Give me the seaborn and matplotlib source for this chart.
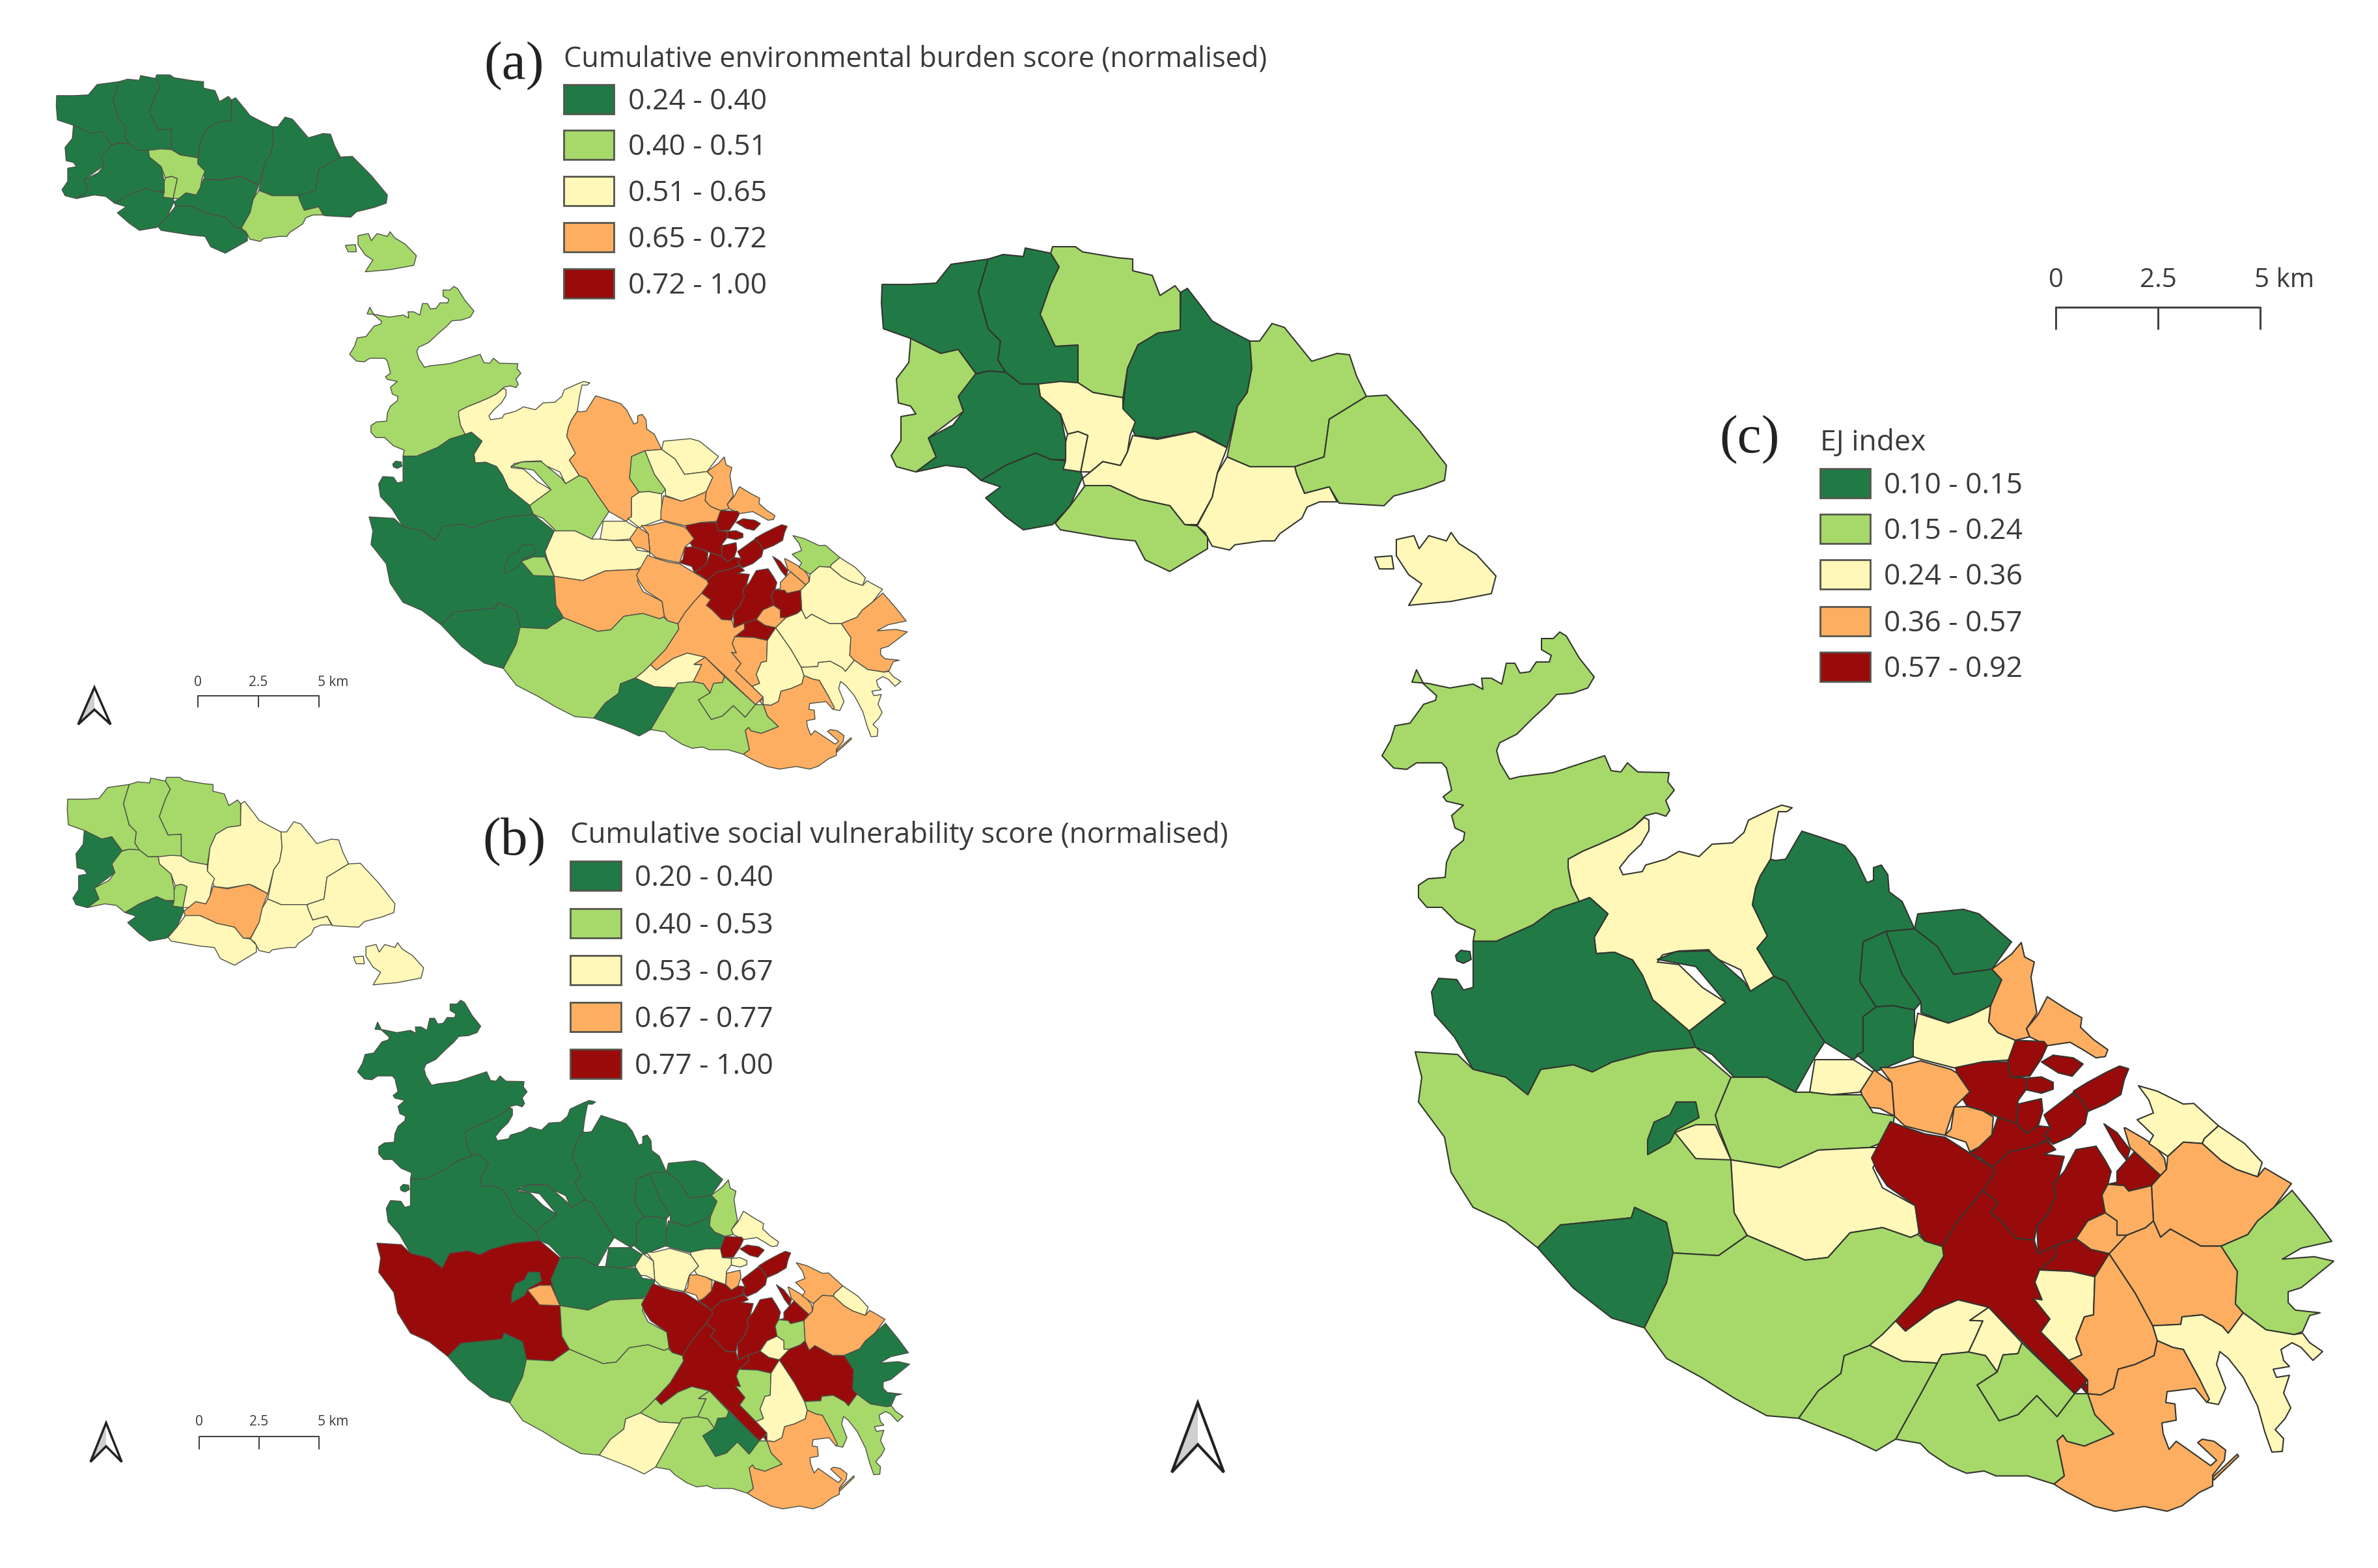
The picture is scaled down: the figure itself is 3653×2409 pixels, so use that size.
# malta_ej_maps.py
# Three choropleth maps of Malta: environmental burden, social vulnerability, EJ index

import pandas as pd
import matplotlib.pyplot as plt
from matplotlib.patches import Rectangle
import seaborn as sns

# class colours, low to high
CLASS_COLOURS = ["#217a45", "#a6d96a", "#fff8b8", "#fdae61", "#990b0b"]

# legend labels
LABELS_A = ["0.24 - 0.40", "0.40 - 0.51", "0.51 - 0.65", "0.65 - 0.72", "0.72 - 1.00"]
LABELS_B = ["0.20 - 0.40", "0.40 - 0.53", "0.53 - 0.67", "0.67 - 0.77", "0.77 - 1.00"]
LABELS_C = ["0.10 - 0.15", "0.15 - 0.24", "0.24 - 0.36", "0.36 - 0.57", "0.57 - 0.92"]
TITLE_A = "Cumulative environmental burden score (normalised)"
TITLE_B = "Cumulative social vulnerability score (normalised)"
TITLE_C = "EJ index"

# Council outlines, traced in the pixel frame of the large map (c)
G1 = [(1355,437),(1399,437),(1438,435),(1461,406),(1518,398),(1503,449),(1518,505),(1537,524),(1533,553),(1545,572),(1518,570),(1499,574),(1472,537),(1445,543),(1399,520),(1357,505),(1354,466)]
G2 = [(1518,398),(1541,391),(1572,394),(1575,381),(1614,389),(1627,410),(1614,437),(1598,483),(1621,532),(1656,530),(1656,588),(1595,590),(1568,590),(1545,572),(1533,553),(1537,524),(1518,505),(1503,449)]
G3 = [(1614,389),(1617,379),(1652,379),(1663,387),(1717,396),(1740,398),(1740,416),(1770,423),(1782,454),(1805,439),(1813,449),(1813,507),(1778,512),(1748,530),(1732,566),(1725,611),(1679,603),(1656,588),(1656,530),(1621,532),(1598,483),(1614,437),(1627,410)]
G4 = [(1813,507),(1814,449),(1824,443),(1851,478),(1862,493),(1889,508),(1920,524),(1923,566),(1916,603),(1901,624),(1885,688),(1851,669),(1836,663),(1778,673),(1744,669),(1725,628),(1732,566),(1748,530),(1778,512)]
G5 = [(1920,524),(1935,524),(1954,497),(1973,503),(2015,555),(2054,543),(2073,545),(2084,578),(2099,609),(2042,644),(2034,702),(1989,717),(1920,717),(1885,702),(1901,624),(1916,603),(1923,566)]
G6 = [(2099,609),(2130,607),(2180,661),(2222,715),(2219,738),(2187,750),(2141,762),(2126,777),(2057,773),(2042,748),(2004,758),(1992,729),(1989,717),(2034,702),(2042,644)]
G7 = [(1885,702),(1920,717),(1989,717),(1992,729),(2004,758),(2042,748),(2054,771),(2027,771),(2008,779),(2000,796),(1966,820),(1958,831),(1939,831),(1897,837),(1889,845),(1862,839),(1851,818),(1839,808),(1862,764),(1870,727)]
G8 = [(1740,669),(1778,675),(1836,663),(1885,688),(1870,727),(1862,764),(1839,806),(1820,806),(1797,777),(1751,767),(1705,746),(1667,750),(1663,735),(1694,709),(1721,715),(1732,694)]
G9 = [(1595,590),(1629,586),(1656,588),(1679,603),(1725,611),(1725,628),(1744,648),(1736,669),(1732,694),(1721,715),(1694,709),(1675,725),(1660,725),(1671,669),(1656,663),(1640,667),(1629,636),(1598,609)]
G10 = [(1640,667),(1656,663),(1671,669),(1660,725),(1633,721),(1629,711)]
G11 = [(1495,576),(1518,570),(1545,572),(1568,590),(1595,590),(1598,609),(1629,636),(1637,677),(1637,706),(1614,706),(1591,696),(1545,715),(1507,738),(1484,719),(1453,715),(1407,725),(1438,702),(1426,673),(1464,653),(1480,632),(1472,609)]
G12 = [(1591,696),(1614,706),(1637,708),(1633,721),(1660,725),(1663,733),(1644,777),(1617,806),(1572,814),(1545,794),(1514,765),(1537,748),(1507,738),(1545,715)]
G13 = [(1667,746),(1705,746),(1751,767),(1797,777),(1820,806),(1839,808),(1855,825),(1855,843),(1797,878),(1759,860),(1744,831),(1705,827),(1629,814),(1621,804),(1644,777)]
G14 = [(1399,520),(1445,543),(1472,537),(1499,574),(1472,609),(1480,632),(1426,673),(1438,702),(1407,725),(1377,717),(1369,700),(1384,677),(1384,640),(1407,636),(1399,624),(1380,619),(1377,582),(1396,557)]
COMINO = [(2145,829),(2172,823),(2180,843),(2195,823),(2222,831),(2229,818),(2241,835),(2268,852),(2298,885),(2291,912),(2229,924),(2164,930),(2184,897),(2164,883),(2145,854)]
COMINOTTO = [(2112,856),(2138,854),(2141,874),(2119,874)]

M1 = [(2176,1029),(2169,1048),(2194,1050),(2227,1057),(2263,1051),(2278,1059),(2276,1042),(2291,1042),(2307,1051),(2314,1019),(2327,1019),(2335,1034),(2350,1032),(2360,1017),(2380,1017),(2383,1007),(2368,998),(2368,981),(2386,981),(2396,971),(2406,977),(2426,1011),(2449,1040),(2439,1057),(2416,1065),(2391,1067),(2378,1082),(2355,1103),(2330,1128),(2304,1141),(2299,1153),(2304,1172),(2319,1197),(2335,1193),(2386,1187),(2465,1161),(2475,1184),(2490,1186),(2500,1172),(2516,1186),(2564,1187),(2562,1201),(2572,1214),(2559,1230),(2565,1245),(2559,1254),(2544,1249),(2528,1253),(2508,1272),(2488,1283),(2457,1297),(2431,1308),(2409,1320),(2409,1333),(2414,1360),(2426,1385),(2386,1398),(2355,1421),(2299,1446),(2263,1446),(2266,1429),(2238,1417),(2215,1394),(2192,1394),(2179,1379),(2179,1360),(2194,1350),(2220,1348),(2222,1325),(2230,1306),(2248,1291),(2250,1279),(2235,1272),(2230,1253),(2248,1237),(2222,1231),(2217,1224),(2230,1214),(2222,1180),(2215,1172),(2176,1172),(2161,1182),(2141,1180),(2123,1161),(2136,1138),(2143,1115),(2166,1111),(2187,1082),(2205,1076),(2207,1069),(2187,1051)]
M2 = [(2426,1385),(2414,1360),(2409,1333),(2409,1320),(2431,1308),(2457,1297),(2488,1283),(2508,1272),(2526,1256),(2533,1260),(2533,1276),(2521,1297),(2503,1314),(2488,1333),(2493,1344),(2523,1339),(2528,1329),(2559,1320),(2579,1308),(2610,1316),(2630,1297),(2661,1295),(2679,1279),(2686,1260),(2722,1243),(2737,1237),(2753,1241),(2745,1247),(2732,1247),(2725,1283),(2720,1320),(2704,1346),(2697,1364),(2692,1390),(2715,1438),(2699,1457),(2725,1500),(2689,1523),(2674,1490),(2633,1471),(2625,1459),(2579,1461),(2554,1467),(2546,1478),(2579,1482),(2615,1517),(2651,1540),(2595,1584),(2539,1536),(2523,1498),(2508,1475),(2480,1463),(2452,1465),(2449,1440),(2470,1404),(2442,1379)]
M3 = [(2263,1446),(2299,1446),(2355,1421),(2386,1398),(2426,1385),(2442,1379),(2470,1404),(2449,1440),(2452,1465),(2480,1463),(2508,1475),(2523,1498),(2539,1536),(2595,1584),(2605,1609),(2536,1616),(2476,1632),(2446,1647),(2417,1636),(2367,1643),(2347,1682),(2313,1655),(2263,1643),(2234,1593),(2204,1559),(2199,1524),(2210,1503),(2238,1505),(2248,1521),(2263,1517)]
ISLET = [(2236,1468),(2244,1460),(2258,1462),(2260,1474),(2248,1480),(2238,1476)]
M4 = [(2546,1474),(2575,1462),(2625,1461),(2679,1508),(2689,1523),(2725,1500),(2744,1508),(2773,1555),(2803,1601),(2788,1624),(2758,1678),(2714,1655),(2664,1655),(2630,1620),(2605,1609),(2595,1584),(2651,1540),(2605,1485)]
M5 = [(2725,1500),(2699,1457),(2715,1438),(2692,1390),(2697,1364),(2704,1346),(2720,1320),(2727,1322),(2743,1320),(2768,1277),(2799,1287),(2834,1299),(2850,1318),(2868,1356),(2878,1352),(2878,1333),(2890,1329),(2900,1344),(2902,1370),(2922,1385),(2941,1427),(2897,1431),(2862,1447),(2857,1508),(2882,1547),(2862,1562),(2862,1616),(2847,1628),(2803,1601),(2773,1555),(2744,1508)]
M6 = [(2941,1427),(2946,1404),(3016,1397),(3040,1404),(3090,1447),(3060,1489),(3001,1497),(2976,1454)]
M7 = [(2897,1431),(2941,1427),(2976,1454),(3001,1497),(3060,1489),(3075,1505),(3058,1543),(3029,1557),(2993,1570),(2951,1555),(2951,1539),(2922,1497)]
M8 = [(2897,1431),(2922,1497),(2951,1539),(2941,1551),(2907,1545),(2882,1547),(2857,1508),(2862,1447)]
M9 = [(2862,1562),(2882,1547),(2907,1545),(2941,1551),(2941,1601),(2939,1622),(2882,1646),(2852,1620),(2862,1616)]
M10 = [(2946,1556),(2993,1570),(3029,1557),(3058,1543),(3055,1567),(3069,1583),(3096,1594),(3087,1623),(3046,1626),(3004,1637),(2953,1626),(2939,1622),(2939,1599)]
OA = [(3105,1448),(3110,1470),(3125,1478),(3120,1501),(3125,1532),(3129,1554),(3113,1577),(3118,1589),(3096,1594),(3069,1583),(3055,1567),(3058,1543),(3075,1505),(3060,1489),(3090,1466)]
OB = [(3145,1530),(3174,1548),(3198,1561),(3196,1575),(3216,1593),(3238,1608),(3234,1618),(3220,1620),(3198,1607),(3180,1597),(3145,1602),(3118,1589),(3113,1577),(3131,1556)]
RD = [(3096,1594),(3140,1596),(3145,1602),(3136,1621),(3118,1647),(3089,1648),(3084,1626)]
RE = [(3136,1626),(3154,1616),(3185,1620),(3200,1629),(3183,1647),(3162,1642)]
RF = [(3004,1636),(3046,1626),(3084,1626),(3089,1648),(3113,1650),(3113,1666),(3100,1683),(3098,1717),(3069,1707),(3046,1698),(3022,1693),(3015,1682),(3026,1671),(3006,1644)]
RG = [(3113,1650),(3136,1648),(3154,1656),(3154,1666),(3136,1672),(3113,1667)]
RH = [(3100,1688),(3136,1680),(3138,1698),(3131,1720),(3113,1731),(3098,1717)]
RI = [(3185,1669),(3207,1656),(3238,1640),(3256,1632),(3270,1636),(3263,1653),(3258,1674),(3234,1688),(3207,1699),(3198,1683)]
RJ = [(3140,1704),(3185,1671),(3198,1683),(3207,1699),(3203,1717),(3180,1736),(3154,1747),(3140,1736),(3149,1722)]
RK = [(3069,1707),(3098,1717),(3113,1731),(3131,1720),(3149,1722),(3140,1736),(3149,1739),(3118,1752),(3087,1758),(3069,1774),(3060,1781),(3042,1768),(3026,1762),(3040,1752),(3060,1733)]
OL = [(2888,1640),(2908,1640),(2950,1628),(2997,1639),(3006,1644),(3026,1671),(3015,1682),(3002,1695),(2988,1738),(2957,1734),(2926,1728),(2910,1714),(2906,1663)]
OM = [(3002,1695),(3022,1693),(3046,1698),(3062,1707),(3060,1733),(3040,1752),(3026,1760),(3020,1746),(2988,1738),(2997,1728)]
ON = [(2857,1669),(2879,1644),(2906,1663),(2910,1714),(2888,1703),(2868,1701),(2860,1682)]
YO = [(2788,1628),(2847,1628),(2877,1647),(2857,1678),(2813,1682),(2780,1678)]
LP = [(2659,1655),(2714,1655),(2758,1678),(2780,1678),(2813,1682),(2860,1682),(2877,1709),(2910,1714),(2907,1736),(2904,1750),(2872,1763),(2793,1767),(2734,1794),(2659,1782),(2640,1732),(2635,1713)]
LQ = [(2174,1616),(2239,1620),(2263,1643),(2313,1655),(2347,1682),(2367,1643),(2417,1636),(2446,1647),(2476,1632),(2536,1616),(2605,1609),(2659,1655),(2635,1713),(2640,1732),(2659,1782),(2664,1863),(2684,1898),(2640,1929),(2570,1925),(2560,1878),(2511,1855),(2506,1871),(2397,1882),(2362,1917),(2313,1878),(2263,1855),(2229,1801),(2219,1747),(2179,1693),(2184,1655)]
GR = [(2531,1751),(2541,1724),(2565,1713),(2575,1693),(2605,1693),(2610,1717),(2575,1736),(2565,1755),(2531,1774)]
YS = [(2573,1740),(2605,1728),(2635,1728),(2659,1782),(2605,1780)]
YT = [(2659,1782),(2734,1794),(2793,1767),(2872,1763),(2897,1763),(2877,1794),(2892,1825),(2942,1848),(2948,1888),(2946,1891),(2935,1897),(2892,1886),(2842,1894),(2808,1932),(2773,1936),(2684,1898),(2664,1863)]
GU = [(2362,1917),(2397,1882),(2506,1871),(2511,1855),(2560,1878),(2570,1925),(2560,1971),(2526,2040),(2476,2025),(2417,1979)]
LV = [(2570,1925),(2640,1929),(2684,1898),(2773,1936),(2808,1932),(2842,1894),(2892,1886),(2935,1897),(2946,1891),(2957,1900),(2984,1905),(2986,1929),(2951,1986),(2912,2029),(2892,2050),(2872,2067),(2833,2083),(2828,2110),(2793,2137),(2763,2179),(2714,2175),(2664,2148),(2615,2117),(2560,2087),(2526,2040),(2560,1971)]
RW = [(2875,1779),(2904,1723),(2926,1730),(2957,1738),(2988,1741),(3026,1762),(3060,1781),(3064,1790),(3046,1816),(3024,1843),(3002,1873),(2984,1905),(2957,1900),(2948,1888),(2942,1848),(2899,1822),(2883,1798)]
RX = [(3060,1781),(3087,1758),(3118,1752),(3145,1742),(3158,1755),(3140,1762),(3171,1765),(3162,1797),(3154,1806),(3158,1822),(3145,1851),(3129,1867),(3125,1888),(3098,1886),(3073,1860),(3058,1848),(3069,1833),(3046,1816),(3064,1790)]
RY = [(3145,1851),(3158,1822),(3154,1806),(3171,1787),(3189,1755),(3220,1750),(3234,1771),(3243,1787),(3238,1806),(3229,1822),(3234,1848),(3207,1860),(3189,1886),(3158,1896),(3131,1908),(3129,1867)]
RZ = [(3252,1803),(3252,1787),(3279,1758),(3319,1793),(3305,1808),(3292,1811),(3270,1816),(3263,1808),(3238,1806)]
RAA = [(3232,1717),(3252,1730),(3272,1755),(3267,1771),(3254,1755)]
OBB = [(3265,1723),(3292,1738),(3310,1749),(3325,1768),(3328,1784),(3319,1793),(3279,1758),(3272,1752),(3263,1723)]
YCC = [(3285,1661),(3314,1669),(3354,1688),(3370,1687),(3408,1720),(3386,1739),(3383,1746),(3354,1744),(3330,1765),(3301,1746),(3308,1734),(3283,1711),(3308,1701),(3301,1682)]
YDD = [(3408,1720),(3448,1746),(3475,1774),(3468,1795),(3435,1784),(3412,1771),(3383,1746),(3386,1739)]
OEE = [(3330,1765),(3354,1744),(3383,1746),(3412,1771),(3435,1784),(3468,1795),(3479,1782),(3520,1805),(3493,1840),(3468,1860),(3453,1880),(3412,1897),(3381,1897),(3334,1872),(3319,1884),(3308,1860),(3305,1808),(3319,1793),(3328,1784)]
OFF = [(3229,1822),(3238,1806),(3263,1808),(3270,1816),(3292,1811),(3305,1808),(3308,1860),(3296,1870),(3267,1881),(3252,1881),(3252,1860),(3234,1848)]
OGG = [(3189,1886),(3207,1860),(3234,1848),(3252,1860),(3252,1881),(3267,1881),(3240,1925),(3212,1902)]
RHH = [(3158,1896),(3189,1886),(3212,1902),(3240,1925),(3218,1959),(3182,1951),(3133,1949),(3158,1929)]
RII = [(2984,1905),(3002,1873),(3024,1843),(3046,1816),(3069,1833),(3058,1848),(3073,1860),(3098,1886),(3125,1888),(3131,1908),(3158,1896),(3158,1929),(3133,1949),(3126,1967),(3137,1993),(3124,1991),(3149,2021),(3135,2040),(3207,2111),(3187,2131),(3055,2004),(3008,1994),(2971,2010),(2927,2044),(2912,2029),(2951,1986),(2986,1929)]
RTAIL = [(3204,2116),(3232,2154),(3228,2156),(3198,2122)]
YJJ = [(3133,1949),(3182,1951),(3218,1959),(3216,2015),(3202,2018),(3189,2050),(3198,2074),(3178,2082),(3135,2040),(3149,2021),(3124,1991),(3137,1993),(3126,1967)]
OKK = [(3240,1925),(3280,1983),(3307,2031),(3314,2053),(3309,2075),(3280,2088),(3254,2095),(3247,2123),(3227,2133),(3207,2131),(3207,2111),(3178,2082),(3198,2074),(3189,2050),(3202,2018),(3216,2015),(3218,1959)]
OLL = [(3240,1925),(3267,1881),(3296,1870),(3308,1860),(3319,1884),(3334,1872),(3381,1897),(3412,1897),(3437,1951),(3434,1999),(3446,2012),(3423,2042),(3414,2032),(3383,2015),(3352,2018),(3350,2029),(3307,2031),(3280,1983)]
LMM = [(3521,1815),(3555,1855),(3582,1890),(3535,1900),(3506,1917),(3555,1913),(3585,1936),(3562,1954),(3535,1975),(3515,1981),(3515,1997),(3526,2008),(3564,2012),(3548,2016),(3537,2040),(3524,2044),(3481,2037),(3446,2012),(3434,1999),(3437,1951),(3412,1897),(3453,1880),(3468,1860),(3493,1840)]
YNN = [(3307,2031),(3350,2029),(3352,2018),(3383,2015),(3414,2032),(3423,2042),(3446,2012),(3481,2037),(3524,2044),(3537,2042),(3548,2056),(3568,2069),(3553,2082),(3535,2063),(3521,2056),(3504,2066),(3508,2082),(3517,2091),(3492,2095),(3497,2107),(3517,2104),(3508,2130),(3519,2152),(3510,2168),(3495,2184),(3508,2197),(3506,2216),(3490,2217),(3479,2187),(3468,2149),(3446,2107),(3423,2079),(3410,2069),(3405,2088),(3419,2123),(3408,2147),(3392,2144),(3379,2110),(3354,2066),(3338,2063),(3314,2053)]
OOO = [(3314,2053),(3338,2063),(3354,2066),(3379,2110),(3394,2139),(3390,2144),(3372,2123),(3329,2128),(3327,2144),(3341,2146),(3343,2170),(3321,2174),(3323,2190),(3332,2213),(3343,2201),(3396,2237),(3405,2229),(3376,2203),(3383,2198),(3401,2201),(3419,2214),(3417,2229),(3399,2251),(3399,2267),(3379,2276),(3352,2296),(3329,2304),(3294,2297),(3249,2304),(3218,2297),(3173,2275),(3155,2264),(3171,2252),(3160,2200),(3169,2192),(3175,2201),(3202,2208),(3247,2190),(3218,2162),(3207,2131),(3227,2133),(3247,2123),(3254,2095),(3280,2088),(3309,2075)]
BREAKWATER = [(3399,2254),(3437,2220),(3439,2223),(3401,2258)]
YQQ = [(2872,2067),(2892,2050),(2912,2029),(2927,2044),(2971,2010),(3008,1994),(3055,2004),(3026,2024),(3046,2024),(3035,2048),(3024,2071),(2983,2077),(2976,2090),(2922,2090)]
YRR = [(3055,2004),(3106,2056),(3100,2072),(3077,2074),(3068,2099),(3050,2075),(3024,2071),(3035,2048),(3046,2024),(3026,2024)]
LSS = [(3106,2056),(3187,2131),(3160,2165),(3129,2134),(3100,2162),(3071,2171),(3037,2119),(3068,2099),(3077,2074),(3100,2072)]
LTT = [(2976,2090),(2983,2077),(3024,2071),(3050,2075),(3068,2099),(3037,2119),(3071,2171),(3100,2162),(3129,2134),(3160,2165),(3187,2131),(3207,2131),(3218,2162),(3247,2190),(3202,2208),(3175,2201),(3169,2192),(3160,2200),(3171,2252),(3155,2264),(3115,2252),(3066,2252),(3048,2245),(3021,2251),(2995,2243),(2963,2225),(2950,2213),(2912,2210),(2951,2137)]
LUU = [(2828,2110),(2833,2083),(2872,2067),(2922,2090),(2976,2090),(2951,2137),(2912,2210),(2882,2229),(2842,2210),(2763,2179),(2793,2137)]

REGIONS = [G1, G2, G3, G4, G5, G6, G7, G8, G9, G10, G11, G12, G13, G14, COMINO, COMINOTTO,
           M1, M2, M3, ISLET, M4, M5, M6, M7, M8, M9, M10, OA, OB, RD, RE, RF, RG, RH, RI, RJ, RK,
           OL, OM, ON, YO, LP, LQ, GR, YS, YT, GU, LV, RW, RX, RY, RZ, RAA, OBB, YCC, YDD, OEE,
           OFF, OGG, RHH, RII, RTAIL, YJJ, OKK, OLL, LMM, YNN, OOO, BREAKWATER, YQQ, YRR, LSS, LTT, LUU]

# class of each region, same order as REGIONS
CLASS_A = [0, 0, 0, 0, 0, 0, 1, 0, 1, 1, 0, 0, 0, 0, 1, 1,
           1, 2, 0, 0, 1, 3, 2, 2, 1, 2, 3, 3, 3, 4, 4, 4, 4, 4, 4, 4, 4,
           3, 4, 3, 2, 2, 0, 0, 1, 3, 0, 1, 3, 4, 4, 3, 4, 3, 1, 2, 2,
           4, 3, 4, 3, 3, 3, 2, 2, 3, 2, 3, 3, 2, 3, 1, 1, 0]
CLASS_B = [1, 1, 1, 2, 2, 2, 2, 3, 2, 1, 1, 0, 2, 0, 2, 2,
           0, 0, 0, 0, 0, 0, 0, 0, 0, 0, 0, 1, 2, 4, 4, 2, 2, 3, 4, 4, 4,
           2, 3, 2, 0, 0, 4, 0, 3, 1, 0, 1, 4, 4, 4, 4, 4, 3, 3, 2, 3,
           1, 2, 4, 4, 4, 1, 2, 4, 0, 1, 3, 3, 1, 1, 0, 1, 2]
CLASS_C = [0, 0, 1, 0, 1, 1, 2, 2, 2, 2, 0, 0, 1, 1, 2, 2,
           1, 2, 0, 0, 0, 0, 0, 0, 0, 0, 2, 3, 3, 4, 4, 4, 4, 4, 4, 4, 4,
           3, 3, 3, 2, 1, 1, 0, 2, 2, 0, 1, 4, 4, 4, 4, 4, 3, 2, 2, 3,
           3, 3, 4, 4, 4, 2, 3, 3, 1, 2, 3, 3, 2, 2, 1, 1, 1]

# north arrow outline and scale bar labels
ARROW_X = [0.0, -0.5, 0.0, 0.5]
ARROW_Y = [0.0, 1.0, 0.6, 1.0]
SCALE_LABELS = ["0", "2.5", "5 km"]

TEXT_COL = "#3a3a3a"
SANS = ["Open Sans", "DejaVu Sans"]
SERIF = ["Liberation Serif", "DejaVu Serif"]

sns.set_theme(style="white")
palette = sns.color_palette(CLASS_COLOURS)

fig = plt.figure(figsize=(36.53, 24.09), dpi=100)
ax = fig.add_axes([0, 0, 1, 1])
ax.set_xlim(0, 3653)
ax.set_ylim(2409, 0)
ax.axis("off")


def trace_y(x, y):
    if y <= 1908:
        shift = (y - 1500) * 0.044 if y > 1500 else 0
    elif y >= 1925:
        shift = (y - 1900) * 0.044
    else:
        shift = 18 - (y - 1908) * 0.99 / 17
    weight = min(max((x - 2900) / 150, 0), 1)
    return y + shift * weight


def draw_map(classes, sx, dx, sy, dy, lw, edge):
    for poly, cl in zip(REGIONS, classes):
        xs = [p[0] * sx + dx for p in poly]
        ys = [trace_y(p[0], p[1]) * sy + dy for p in poly]
        ax.fill(xs, ys, facecolor=palette[cl], edgecolor=edge, linewidth=lw, joinstyle="round")


def draw_legend(title, labels, x, y_title, tops, box_w, box_h, label_x, size, title_size):
    ax.text(x, y_title + 3, title, family=SANS, fontsize=title_size, color=TEXT_COL, va="center", ha="left")
    for i, lab in enumerate(labels):
        ax.add_patch(Rectangle((x, tops[i]), box_w, box_h, facecolor=palette[i], edgecolor="#55554c", linewidth=2))
        ax.text(label_x, tops[i] + box_h / 2 + 4, lab, family=SANS, fontsize=size, color=TEXT_COL, va="center", ha="left")


def draw_scale(x0, x1, y_bar, y_tick, y_lab, label_xs, size, lw):
    mid = (x0 + x1) / 2
    bar = pd.DataFrame({"x": [x0, x0, x1, x1], "y": [y_tick, y_bar, y_bar, y_tick]})
    sns.lineplot(data=bar, x="x", y="y", sort=False, estimator=None, color="#444444", linewidth=lw, ax=ax)
    ax.plot([mid, mid], [y_bar, y_tick], color="#444444", linewidth=lw)
    for lab, lx in zip(SCALE_LABELS, label_xs):
        ax.text(lx, y_lab + 4, lab, family=SANS, fontsize=size, color=TEXT_COL, ha="center", va="center")


def draw_arrow(cx, top, w, h, lw):
    xs = [cx + v * w for v in ARROW_X]
    ys = [top + v * h for v in ARROW_Y]
    ax.fill(xs[:3], ys[:3], facecolor="#cfcfcf", edgecolor="none")
    ax.fill(xs, ys, facecolor="none", edgecolor="#222222", linewidth=lw, joinstyle="miter")


# panel maps
draw_map(CLASS_A, 0.586, -707, 0.549, -93, 1.0, "#4c4e46")
draw_map(CLASS_B, 0.580, -682, 0.5785, 975, 1.0, "#4c4e46")
draw_map(CLASS_C, 1.0, 0, 1.0, 0, 1.5, "#33352f")

# legends
draw_legend(TITLE_A, LABELS_A, 866, 88, [130, 200, 271, 342, 413], 77, 45, 965, 32, 31.2)
draw_legend(TITLE_B, LABELS_B, 876, 1281, [1323, 1396, 1468, 1540, 1612], 78, 45, 975, 32, 31.6)
draw_legend(TITLE_C, LABELS_C, 2796, 678, [720, 790, 860, 932, 1002], 77, 45, 2894, 32, 32)

# panel letters
ax.text(790, 102, "(a)", family=SERIF, fontsize=60, color="#222222", ha="center", va="center")
ax.text(790, 1294, "(b)", family=SERIF, fontsize=60, color="#222222", ha="center", va="center")
ax.text(2688, 676, "(c)", family=SERIF, fontsize=60, color="#222222", ha="center", va="center")

# scale bars
draw_scale(304, 490, 1069, 1086, 1044, [304, 397, 512], 15, 1.5)
draw_scale(306, 490, 2207, 2226, 2181, [306, 398, 512], 15, 1.5)
draw_scale(3158, 3472, 472, 505, 427, [3158, 3315, 3509], 29, 2.2)

# north arrows
draw_arrow(145, 1056, 50, 57, 2.5)
draw_arrow(163, 2186, 48, 60, 2.5)
draw_arrow(1840, 2155, 80, 107, 3.0)

fig.savefig("out.png", dpi=100)
